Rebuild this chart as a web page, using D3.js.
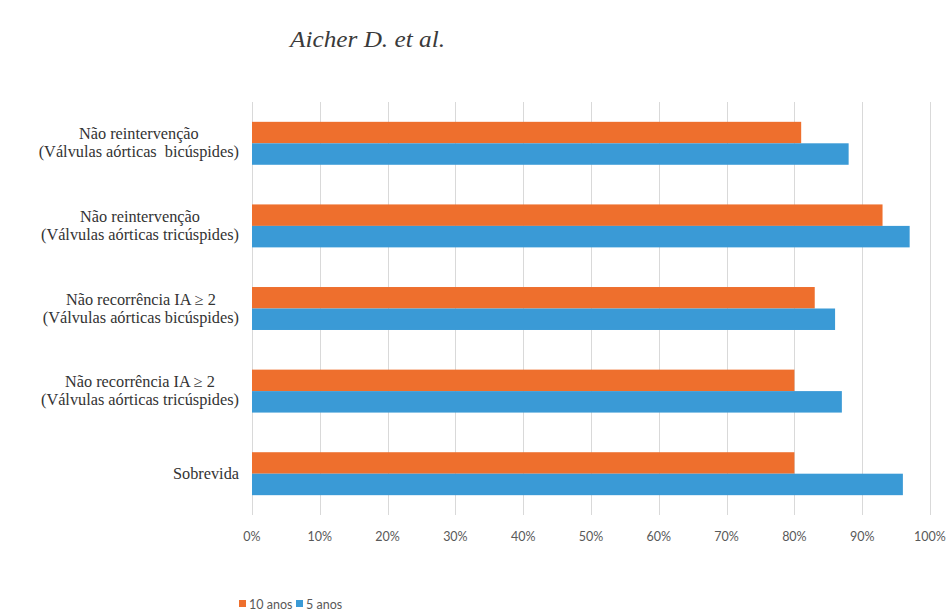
<html>
  <head>
    <meta charset="utf-8" />
    <script src="https://cdn.jsdelivr.net/npm/d3@7"></script>
    <style>
      body { margin: 0; background: #fff; }
      svg { display: block; }
      .grid line { stroke: #d9d9d9; stroke-width: 1; }
      .tick-label { font-family: Lato, "Open Sans", sans-serif; font-size: 12.5px; fill: #595959; }
      .serif { font-family: "Liberation Serif", "Times New Roman", Times, "DejaVu Serif", serif; }
      .cat-label { font-size: 16.3px; fill: #333; }
      .legend text { font-family: Lato, "Open Sans", sans-serif; font-size: 12.5px; fill: #595959; }
    </style>
  </head>
  <body>
    <div id="container"></div>
    <script>
      // data
      const categories = [
        ["Não reintervenção", "(Válvulas aórticas  bicúspides)"],
        ["Não reintervenção", "(Válvulas aórticas tricúspides)"],
        ["Não recorrência IA ≥ 2", "(Válvulas aórticas bicúspides)"],
        ["Não recorrência IA ≥ 2", "(Válvulas aórticas tricúspides)"],
        ["Sobrevida"]
      ];
      const seriesNames = ["10 anos", "5 anos"];
      const tenYears = [0.81, 0.93, 0.83, 0.80, 0.80];
      const fiveYears = [0.88, 0.97, 0.86, 0.87, 0.96];
      const tickValues = [0, 0.1, 0.2, 0.3, 0.4, 0.5, 0.6, 0.7, 0.8, 0.9, 1.0];
      const colors = ["#ee6f2d", "#3a9ad6"];

      const w = 949;
      const h = 616;

      const svg = d3
        .select("#container")
        .append("svg")
        .attr("width", w)
        .attr("height", h);

      // title
      svg
        .append("text")
        .attr("class", "serif")
        .attr("x", 290)
        .attr("y", 47)
        .attr("textLength", 155)
        .attr("lengthAdjust", "spacingAndGlyphs")
        .style("font-style", "italic")
        .style("font-size", "23px")
        .style("fill", "#3a3a3a")
        .text("Aicher D. et al.");

      const x = d3.scaleLinear().domain([0, 1]).range([252, 930]);

      const y = d3
        .scaleBand()
        .domain(d3.range(categories.length))
        .range([102, 515])
        .paddingInner(0.48)
        .paddingOuter(0.24);

      const ySub = d3
        .scaleBand()
        .domain(seriesNames)
        .range([0, y.bandwidth()]);

      // gridlines
      svg
        .append("g")
        .attr("class", "grid")
        .selectAll("line")
        .data(tickValues)
        .enter()
        .append("line")
        .attr("x1", (d) => Math.round(x(d)) + 0.5)
        .attr("x2", (d) => Math.round(x(d)) + 0.5)
        .attr("y1", 102)
        .attr("y2", 515);

      // tick labels
      svg
        .append("g")
        .selectAll("text")
        .data(tickValues)
        .enter()
        .append("text")
        .attr("class", "tick-label")
        .attr("x", (d) => x(d))
        .attr("y", 541)
        .attr("text-anchor", "middle")
        .text(d3.format(".0%"));

      // bars
      const rows = categories.map((c, i) => ({
        i,
        values: [tenYears[i], fiveYears[i]]
      }));

      const groups = svg
        .append("g")
        .selectAll("g")
        .data(rows)
        .enter()
        .append("g")
        .attr("transform", (d) => "translate(0," + y(d.i) + ")");

      groups
        .selectAll("rect")
        .data((d) => d.values.map((v, k) => ({ v, k })))
        .enter()
        .append("rect")
        .attr("x", x(0))
        .attr("y", (d) => ySub(seriesNames[d.k]))
        .attr("width", (d) => x(d.v) - x(0))
        .attr("height", ySub.bandwidth())
        .attr("fill", (d) => colors[d.k]);

      // category labels: lines centred in a block whose right edge sits at 239
      const labelRight = 239;
      const lineH = 18;
      categories.forEach((lines, i) => {
        const cy = y(i) + y.bandwidth() / 2;
        const t = svg
          .append("text")
          .attr("class", "cat-label serif")
          .attr("text-anchor", "middle")
          .style("white-space", "pre");
        const spans = lines.map((s, j) =>
          t
            .append("tspan")
            .attr("y", cy + (j - (lines.length - 1) / 2) * lineH + 5)
            .text(s)
        );
        const maxW = d3.max(spans, (s) => s.node().getComputedTextLength());
        spans.forEach((s) => s.attr("x", labelRight - maxW / 2));
      });

      // legend
      const legend = svg.append("g").attr("class", "legend");
      const legendX = [239, 296];
      seriesNames.forEach((name, k) => {
        legend
          .append("rect")
          .attr("x", legendX[k])
          .attr("y", 600)
          .attr("width", 7)
          .attr("height", 7)
          .attr("fill", colors[k]);
        legend
          .append("text")
          .attr("x", legendX[k] + 10)
          .attr("y", 609)
          .text(name);
      });
    </script>
  </body>
</html>
